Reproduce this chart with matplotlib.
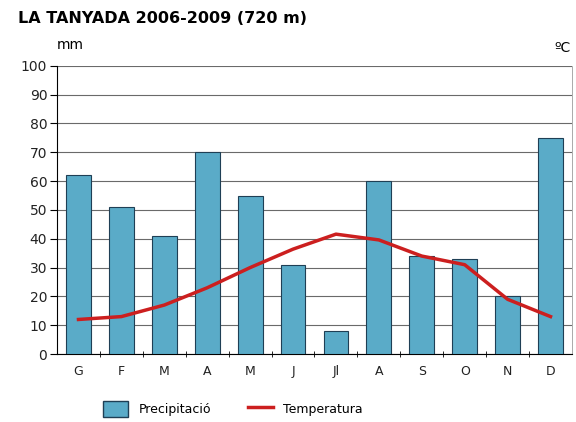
import matplotlib.pyplot as plt
from matplotlib.patches import Patch
from matplotlib.lines import Line2D

months = ['G', 'F', 'M', 'A', 'M', 'J', 'Jl', 'A', 'S', 'O', 'N', 'D']
precip = [62, 51, 41, 70, 55, 31, 8, 60, 34, 33, 20, 75]
temp = [6, 6.5, 8.5, 11.5, 15, 18.2, 20.8, 19.8, 17, 15.5, 9.5, 6.5]

fig = plt.figure(figsize=(5.76, 4.22), dpi=100)
ax = fig.add_axes([0.099, 0.161, 0.894, 0.683])
x = range(len(months))

ax.bar(x, precip, width=0.58, color='#5aabc8', edgecolor='#1f3f55', linewidth=0.8, zorder=3)
ax.set_ylim(0, 100)
ax.set_xlim(-0.5, 11.5)
ax.set_yticks(range(0, 101, 10))
ax.yaxis.grid(True, color='#6a6a6a', linewidth=0.8, zorder=0)
ax.set_xticks(list(x))
ax.set_xticklabels(months, fontsize=9, color='#222222')
ax.set_xticks([i + 0.5 for i in range(11)], minor=True)
ax.tick_params(axis='x', which='major', length=0, pad=8)
ax.tick_params(axis='x', which='minor', length=4, direction='inout')
ax.tick_params(axis='y', labelsize=10, length=5, pad=2, labelcolor='#222222')
ax.spines['top'].set_visible(False)
ax.spines['right'].set_linewidth(0.5)
ax.spines['right'].set_color('#888888')

ax2 = ax.twinx()
ax2.plot(list(x), temp, color='#cc1f1f', linewidth=2.5, zorder=4)
ax2.set_ylim(0, 50)
ax2.set_yticks([])
for s in ax2.spines.values():
    s.set_visible(False)

fig.text(0.031, 0.955, 'LA TANYADA 2006-2009 (720 m)', fontsize=11.5, fontweight='bold', va='center')
fig.text(0.099, 0.893, 'mm', fontsize=10, va='center')
fig.text(0.963, 0.886, 'ºC', fontsize=10, va='center')

handles = [Patch(facecolor='#5aabc8', edgecolor='#1f3f55'),
           Line2D([], [], color='#cc1f1f', linewidth=2.5)]
fig.legend(handles, ['Precipitació', 'Temperatura'], loc='center', ncol=2,
           bbox_to_anchor=(0.405, 0.03), frameon=False, fontsize=9,
           handlelength=2.0, handleheight=1.6, columnspacing=3)

fig.savefig('out.png', dpi=100)
